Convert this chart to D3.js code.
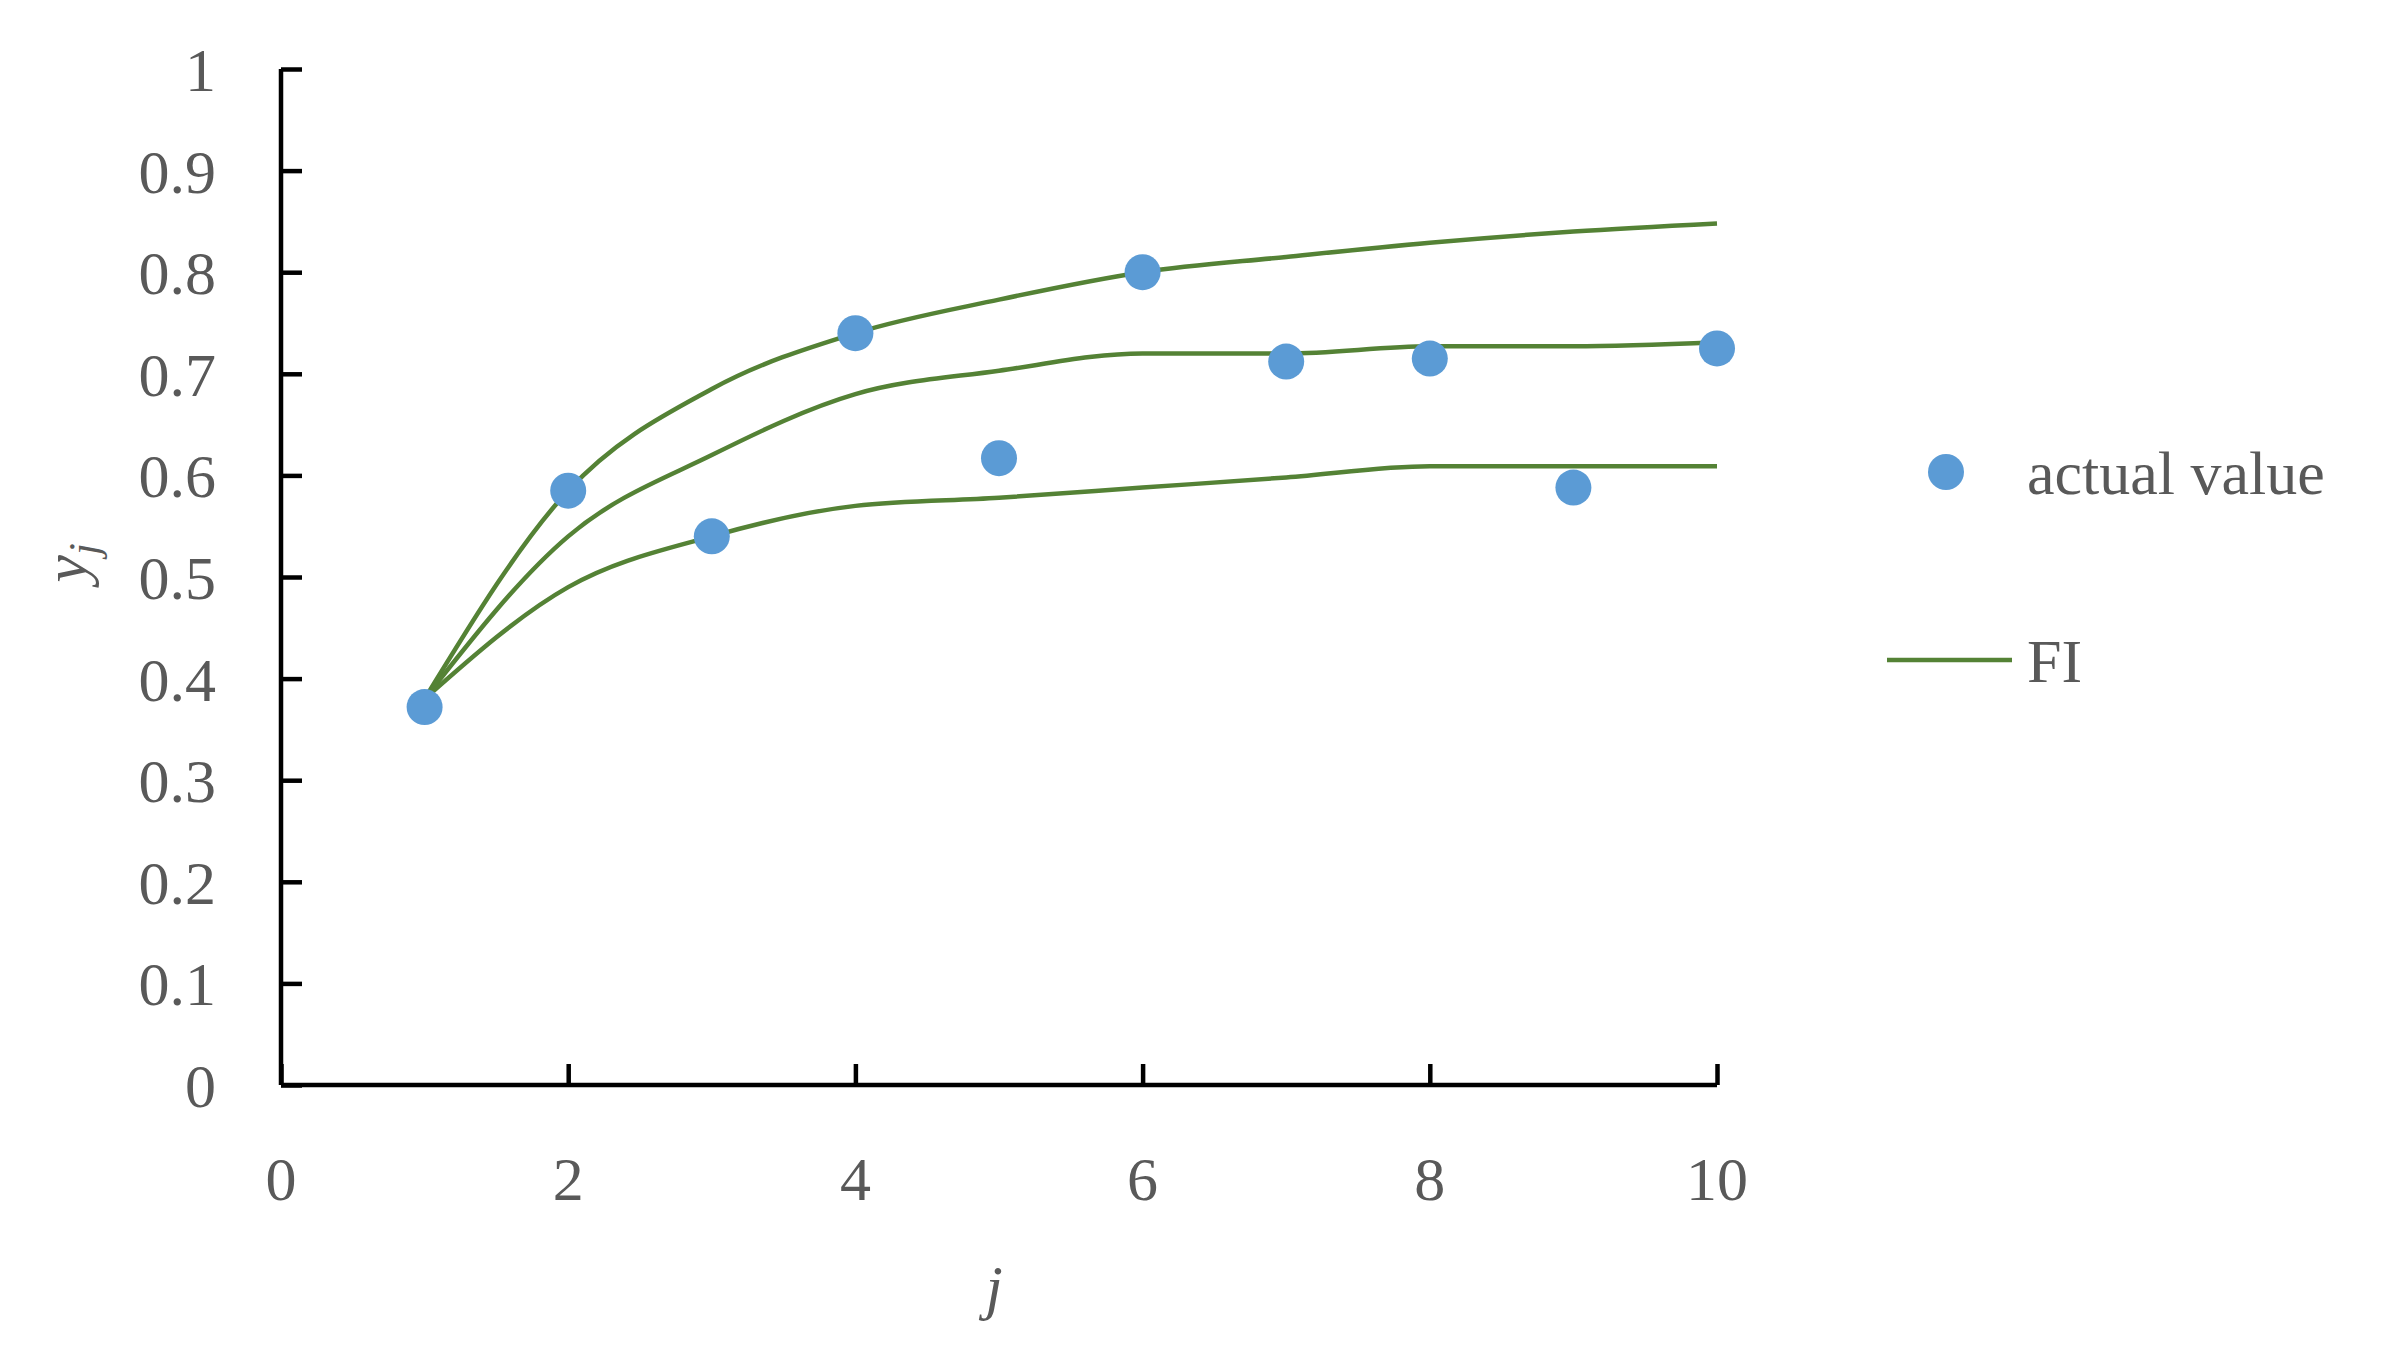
<!DOCTYPE html>
<html><head><meta charset="utf-8">
<script src="https://cdn.jsdelivr.net/npm/d3@7"></script>
<style>body{margin:0;background:#fff}text{font-family:"Liberation Serif",serif;fill:#595959}</style>
</head><body>
<div id="chart"></div>
<script>
// data
const j = [1, 2, 3, 4, 5, 6, 7, 8, 9, 10];
const actual = [0.372, 0.585, 0.54, 0.74, 0.617, 0.8, 0.712, 0.715, 0.588, 0.725];
const fiUpper = [0.38, 0.585, 0.685, 0.74, 0.773, 0.8, 0.815, 0.829, 0.84, 0.848];
const fiMiddle = [0.38, 0.54, 0.62, 0.68, 0.703, 0.72, 0.72, 0.727, 0.727, 0.731];
const fiLower = [0.38, 0.49, 0.54, 0.57, 0.578, 0.588, 0.598, 0.609, 0.609, 0.609];
const xTicks = [0, 2, 4, 6, 8, 10];
const yTicks = [0, 0.1, 0.2, 0.3, 0.4, 0.5, 0.6, 0.7, 0.8, 0.9, 1];

const W = 2405, H = 1354;
const svg = d3.select("#chart").append("svg").attr("width", W).attr("height", H);

const x = d3.scaleLinear().domain([0, 10]).range([281, 1717]);
const y = d3.scaleLinear().domain([0, 1]).range([1085, 69]);

// axes
const xAxis = svg.append("g").attr("transform", "translate(0," + y(0) + ")")
  .call(d3.axisTop(x).tickValues(xTicks).tickSize(21).tickFormat(""));
xAxis.selectAll("path,line").attr("stroke", "#000").attr("stroke-width", 4.5);
xAxis.select(".domain").attr("d", "M" + x(0) + ",0H" + x(10));
svg.append("g").selectAll("text").data(xTicks).join("text")
  .attr("x", d => x(d)).attr("y", 1200).attr("text-anchor", "middle")
  .attr("font-size", 62).text(d => d);

const yAxis = svg.append("g").attr("transform", "translate(" + x(0) + ",0)")
  .call(d3.axisRight(y).tickValues(yTicks).tickSize(21).tickFormat(""));
yAxis.selectAll("path,line").attr("stroke", "#000").attr("stroke-width", 4.5);
yAxis.select(".domain").attr("d", "M0," + y(0) + "V" + y(1));
svg.append("g").selectAll("text").data(yTicks).join("text")
  .attr("x", 216).attr("y", d => y(d) + 22).attr("text-anchor", "end")
  .attr("font-size", 62).text(d => d);

// axis titles
svg.append("text").attr("x", 994).attr("y", 1308).attr("text-anchor", "middle")
  .attr("font-size", 62).attr("font-style", "italic").text("j");
const yl = svg.append("text").attr("transform", "translate(86,563) rotate(-90)")
  .attr("text-anchor", "middle").attr("font-size", 62).attr("font-style", "italic");
yl.append("tspan").text("y");
yl.append("tspan").attr("font-size", 42).attr("dy", 12).text("j");

// FI curves
const line = d3.line().x((d, i) => x(j[i])).y(d => y(d)).curve(d3.curveMonotoneX);
[fiUpper, fiMiddle, fiLower].forEach(s => {
  svg.append("path").attr("d", line(s)).attr("fill", "none")
    .attr("stroke", "#548235").attr("stroke-width", 4.5);
});

// actual values
svg.append("g").selectAll("circle").data(actual).join("circle")
  .attr("cx", (d, i) => x(j[i])).attr("cy", d => y(d)).attr("r", 18)
  .attr("fill", "#5B9BD5");

// legend
svg.append("circle").attr("cx", 1946).attr("cy", 472).attr("r", 18).attr("fill", "#5B9BD5");
svg.append("text").attr("x", 2027).attr("y", 494).attr("font-size", 62).text("actual value");
svg.append("line").attr("x1", 1887).attr("x2", 2012).attr("y1", 660).attr("y2", 660)
  .attr("stroke", "#548235").attr("stroke-width", 4.5);
svg.append("text").attr("x", 2027).attr("y", 682).attr("font-size", 62).text("FI");
</script>
</body></html>
